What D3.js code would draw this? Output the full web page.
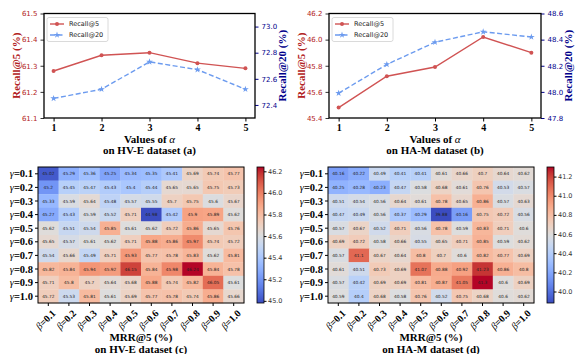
<!DOCTYPE html>
<html>
<head>
<meta charset="utf-8">
<script src="https://cdn.jsdelivr.net/npm/d3@7"></script>
<style>
  body { margin: 0; background: #fff; }
  svg { display: block; }
  .serif { font-family: "Liberation Serif", "DejaVu Serif", serif; font-weight: bold; }
  .sans { font-family: "DejaVu Sans", sans-serif; }
</style>
</head>
<body>
<script>
// ---- data ----
const alphas = [1, 2, 3, 4, 5];
const recall5HVE = [61.28, 61.34, 61.35, 61.31, 61.29];
const recall20HVE = [72.45, 72.52, 72.73, 72.67, 72.52];
const recall5HAM = [45.48, 45.72, 45.79, 46.02, 45.90];
const recall20HAM = [47.99, 48.21, 48.38, 48.46, 48.42];

const gammaLabels = ["0.1", "0.2", "0.3", "0.4", "0.5", "0.6", "0.7", "0.8", "0.9", "1.0"];
const betaLabels = ["0.1", "0.2", "0.3", "0.4", "0.5", "0.6", "0.7", "0.8", "0.9", "1.0"];

// rows = gamma, cols = beta
const mrrHVE = [
  [45.02, 45.29, 45.36, 45.25, 45.34, 45.35, 45.41, 45.69, 45.74, 45.77],
  [45.2, 45.45, 45.47, 45.43, 45.4, 45.44, 45.65, 45.65, 45.75, 45.73],
  [45.33, 45.59, 45.64, 45.48, 45.57, 45.55, 45.7, 45.75, 45.6, 45.67],
  [45.27, 45.43, 45.59, 45.52, 45.71, 44.98, 45.42, 45.9, 45.89, 45.62],
  [45.62, 45.51, 45.54, 45.85, 45.61, 45.62, 45.72, 45.86, 45.65, 45.76],
  [45.65, 45.57, 45.61, 45.62, 45.71, 45.88, 45.86, 45.97, 45.74, 45.72],
  [45.54, 45.66, 45.49, 45.71, 45.93, 45.77, 45.78, 45.83, 45.62, 45.81],
  [45.82, 45.84, 45.94, 45.92, 46.15, 45.84, 45.98, 46.24, 45.84, 45.78],
  [45.71, 45.8, 45.7, 45.64, 45.68, 45.88, 45.74, 45.82, 46.05, 45.61],
  [45.72, 45.53, 45.81, 45.61, 45.69, 45.77, 45.78, 45.74, 45.86, 45.66]
];
const mrrHAM = [
  [40.16, 40.22, 40.49, 40.41, 40.41, 40.61, 40.66, 40.7, 40.64, 40.62],
  [40.25, 40.28, 40.23, 40.47, 40.58, 40.68, 40.61, 40.76, 40.53, 40.57],
  [40.51, 40.54, 40.56, 40.64, 40.61, 40.78, 40.65, 40.86, 40.57, 40.63],
  [40.47, 40.49, 40.56, 40.37, 40.29, 39.88, 40.16, 40.75, 40.72, 40.56],
  [40.57, 40.67, 40.52, 40.71, 40.56, 40.78, 40.59, 40.83, 40.71, 40.6],
  [40.69, 40.72, 40.58, 40.66, 40.55, 40.65, 40.71, 40.85, 40.59, 40.62],
  [40.57, 41.1, 40.67, 40.64, 40.8, 40.7, 40.6, 40.82, 40.77, 40.69],
  [40.61, 40.51, 40.73, 40.69, 41.07, 40.88, 40.92, 41.23, 40.86, 40.8],
  [40.57, 40.42, 40.69, 40.69, 40.81, 40.87, 41.05, 41.3, 40.6, 40.69],
  [40.59, 40.4, 40.68, 40.58, 40.76, 40.52, 40.75, 40.68, 40.6, 40.62]
];

const ticksHVE = [45.0, 45.2, 45.4, 45.6, 45.8, 46.0, 46.2];
const ticksHAM = [40.0, 40.2, 40.4, 40.6, 40.8, 41.0, 41.2];

// coolwarm control colours (Moreland)
const coolwarm = [
  [59,76,192],[68,90,204],[77,104,215],[87,117,225],[98,130,234],[108,142,241],
  [119,154,247],[130,165,251],[141,176,254],[152,185,255],[163,194,255],[174,201,253],
  [184,208,249],[194,213,244],[204,217,238],[213,219,230],[221,221,221],[229,216,209],
  [236,211,197],[241,204,185],[245,196,173],[247,187,160],[247,177,148],[247,166,135],
  [244,154,123],[241,141,111],[236,127,99],[229,112,88],[222,96,77],[213,80,66],
  [203,62,56],[192,40,47],[180,4,38]
].map(c => d3.rgb(c[0], c[1], c[2]).toString());
const coolwarmInterp = d3.piecewise(d3.interpolateRgb, coolwarm);

const W = 576, H = 354;
const svg = d3.select("body").append("svg").attr("width", W).attr("height", H);
const defs = svg.append("defs");

const red = "#d05353", blue = "#6c9bef";
const redText = "#b22222", blueText = "#00008b";

function drawLinePanel(o) {
  const g = svg.append("g");
  const x = d3.scaleLinear().domain([0.8, 5.2]).range([o.left, o.right]);
  const yL = d3.scaleLinear().domain(o.leftDomain).range([o.bottom, o.top]);
  const yR = d3.scaleLinear().domain(o.rightDomain).range([o.bottom, o.top]);

  // axes
  const ax = g.append("g").attr("transform", `translate(0,${o.bottom})`)
    .call(d3.axisBottom(x).tickValues(alphas).tickFormat(d3.format("d")).tickSizeOuter(0).tickSize(3.5));
  ax.selectAll("text").attr("class", "serif").style("font-size", "10px").attr("fill", "#000")
    .attr("y", 5).attr("dy", "0.8em");

  const al = g.append("g").attr("transform", `translate(${o.left},0)`)
    .call(d3.axisLeft(yL).tickValues(o.leftTicks).tickFormat(d3.format(".1f")).tickSizeOuter(0).tickSize(3.5));
  al.selectAll("text").attr("class", "sans").style("font-size", "7px").attr("fill", redText);
  al.selectAll("line").attr("stroke", "#333");

  const ar = g.append("g").attr("transform", `translate(${o.right},0)`)
    .call(d3.axisRight(yR).tickValues(o.rightTicks).tickFormat(d3.format(".1f")).tickSizeOuter(0).tickSize(3.5));
  ar.selectAll("text").attr("class", "sans").style("font-size", "7px").attr("fill", blueText);
  ar.selectAll("line").attr("stroke", blueText);

  [ax, al, ar].forEach(a => a.select(".domain").remove());
  g.append("rect").attr("x", o.left).attr("y", o.top)
    .attr("width", o.right - o.left).attr("height", o.bottom - o.top)
    .attr("fill", "none").attr("stroke", "#000").attr("stroke-width", 1.3);

  // lines
  const lineL = d3.line().x((d, i) => x(alphas[i])).y(d => yL(d));
  const lineR = d3.line().x((d, i) => x(alphas[i])).y(d => yR(d));
  g.append("path").datum(o.r5).attr("d", lineL).attr("fill", "none")
    .attr("stroke", red).attr("stroke-width", 1.4);
  g.selectAll(".m5").data(o.r5).join("circle")
    .attr("cx", (d, i) => x(alphas[i])).attr("cy", d => yL(d)).attr("r", 2).attr("fill", red);
  g.append("path").datum(o.r20).attr("d", lineR).attr("fill", "none")
    .attr("stroke", blue).attr("stroke-width", 1.4).attr("stroke-dasharray", "5,2.5");
  const star = d3.symbol().type(d3.symbolStar).size(14);
  g.selectAll(".m20").data(o.r20).join("path")
    .attr("d", star).attr("fill", blue)
    .attr("transform", (d, i) => `translate(${x(alphas[i])},${yR(d)})`);

  // legend
  const lg = g.append("g").attr("transform", `translate(${o.left + 3},${o.top + 4})`);
  lg.append("rect").attr("x", 0).attr("y", 0).attr("width", 61).attr("height", 24).attr("rx", 2)
    .attr("fill", "#fff").attr("stroke", "#d0d0d0").attr("stroke-width", 0.8);
  lg.append("line").attr("x1", 3).attr("x2", 17).attr("y1", 6.5).attr("y2", 6.5).attr("stroke", red).attr("stroke-width", 1.4);
  lg.append("circle").attr("cx", 10).attr("cy", 6.5).attr("r", 2).attr("fill", red);
  lg.append("line").attr("x1", 3).attr("x2", 17).attr("y1", 17.5).attr("y2", 17.5).attr("stroke", blue)
    .attr("stroke-width", 1.4).attr("stroke-dasharray", "5,2.5");
  lg.append("path").attr("d", star).attr("fill", blue).attr("transform", "translate(10,17.5)");
  lg.append("text").attr("class", "sans").attr("x", 22).attr("y", 6.5).attr("dy", "0.35em")
    .style("font-size", "6.5px").attr("fill", "#222").text("Recall@5");
  lg.append("text").attr("class", "sans").attr("x", 22).attr("y", 17.5).attr("dy", "0.35em")
    .style("font-size", "6.5px").attr("fill", "#222").text("Recall@20");

  // axis labels
  const cy = (o.top + o.bottom) / 2;
  g.append("text").attr("class", "serif").style("font-size", "11px").attr("fill", redText)
    .attr("text-anchor", "middle").attr("transform", `translate(${o.left - 28},${cy}) rotate(-90)`)
    .attr("dy", "0.35em").text("Recall@5 (%)");
  g.append("text").attr("class", "serif").style("font-size", "11px").attr("fill", blueText)
    .attr("text-anchor", "middle").attr("transform", `translate(${o.right + 27},${cy}) rotate(-90)`)
    .attr("dy", "0.35em").text("Recall@20 (%)");

  const cx = (o.left + o.right) / 2;
  const t1 = g.append("text").attr("class", "serif").style("font-size", "11px").attr("fill", "#000")
    .attr("text-anchor", "middle").attr("x", cx).attr("y", 142.5);
  t1.append("tspan").text("Values of ");
  t1.append("tspan").style("font-style", "italic").style("font-weight", "normal").text("α");
  g.append("text").attr("class", "serif").style("font-size", "11px").attr("fill", "#000")
    .attr("text-anchor", "middle").attr("x", cx).attr("y", 154).text(o.title);
}

function drawHeatmap(o) {
  const g = svg.append("g");
  const x = d3.scaleBand().domain(betaLabels).range([o.left, o.right]);
  const y = d3.scaleBand().domain(gammaLabels).range([o.top, o.bottom]);
  const flat = o.data.flat();
  const vmin = d3.min(flat), vmax = d3.max(flat);
  const color = d3.scaleSequential(coolwarmInterp).domain([vmin, vmax]);

  const cells = [];
  o.data.forEach((row, i) => row.forEach((v, j) => cells.push({ g: gammaLabels[i], b: betaLabels[j], v })));

  g.selectAll("rect.cell").data(cells).join("rect").attr("class", "cell")
    .attr("x", d => x(d.b)).attr("y", d => y(d.g))
    .attr("width", x.bandwidth() + 0.3).attr("height", y.bandwidth() + 0.3)
    .attr("fill", d => color(d.v));
  g.selectAll("text.val").data(cells).join("text").attr("class", "sans")
    .attr("x", d => x(d.b) + x.bandwidth() / 2).attr("y", d => y(d.g) + y.bandwidth() / 2)
    .attr("dy", "0.35em").attr("text-anchor", "middle").style("font-size", "4.3px").attr("fill", "#222")
    .text(d => String(d.v));
  g.append("rect").attr("x", o.left).attr("y", o.top).attr("width", o.right - o.left)
    .attr("height", o.bottom - o.top).attr("fill", "none").attr("stroke", "#000").attr("stroke-width", 1);

  // y axis
  const ay = g.append("g").attr("transform", `translate(${o.left},0)`)
    .call(d3.axisLeft(y).tickSize(3).tickSizeOuter(0));
  ay.select(".domain").remove();
  ay.selectAll("text").remove();
  ay.selectAll(".tick").append("text").attr("class", "serif").attr("x", -5).attr("dy", "0.35em")
    .attr("text-anchor", "end").style("font-size", "10.5px").attr("fill", "#000")
    .each(function(d) {
      const t = d3.select(this);
      t.append("tspan").style("font-style", "italic").style("font-weight", "normal").text("γ");
      t.append("tspan").text("=" + d);
    });

  // x axis
  const ax = g.append("g").attr("transform", `translate(0,${o.bottom})`)
    .call(d3.axisBottom(x).tickSize(3).tickSizeOuter(0));
  ax.select(".domain").remove();
  ax.selectAll("text").remove();
  ax.selectAll(".tick").append("text").attr("class", "serif")
    .attr("transform", "translate(3,6) rotate(-45)").attr("dy", "0.7em")
    .attr("text-anchor", "end").style("font-size", "10px").attr("fill", "#000")
    .each(function(d) {
      const t = d3.select(this);
      t.append("tspan").style("font-style", "italic").style("font-weight", "normal").text("β");
      t.append("tspan").text("=" + d);
    });

  // colorbar
  const gid = "cw" + o.id;
  const grad = defs.append("linearGradient").attr("id", gid)
    .attr("x1", 0).attr("x2", 0).attr("y1", 1).attr("y2", 0);
  coolwarm.forEach((c, i) => grad.append("stop").attr("offset", i / (coolwarm.length - 1)).attr("stop-color", c));
  g.append("rect").attr("x", o.cbX).attr("y", o.top).attr("width", 7).attr("height", o.bottom - o.top)
    .attr("fill", `url(#${gid})`).attr("stroke", "#000").attr("stroke-width", 0.8);
  const cy = d3.scaleLinear().domain([vmin, vmax]).range([o.bottom, o.top]);
  const ac = g.append("g").attr("transform", `translate(${o.cbX + 7},0)`)
    .call(d3.axisRight(cy).tickValues(o.ticks).tickFormat(d3.format(".1f")).tickSize(2.5).tickSizeOuter(0));
  ac.select(".domain").remove();
  ac.selectAll("text").attr("class", "sans").style("font-size", "6.5px").attr("fill", "#333").attr("x", 4);

  const cx = (o.left + o.right) / 2;
  g.append("text").attr("class", "serif").style("font-size", "11px").attr("fill", "#000")
    .attr("text-anchor", "middle").attr("x", cx).attr("y", 341).text("MRR@5 (%)");
  g.append("text").attr("class", "serif").style("font-size", "11px").attr("fill", "#000")
    .attr("text-anchor", "middle").attr("x", cx).attr("y", 352.5).text(o.title);
}

drawLinePanel({
  left: 44, right: 255, top: 13.5, bottom: 118,
  leftDomain: [61.1, 61.5], rightDomain: [72.3, 73.1],
  leftTicks: [61.1, 61.2, 61.3, 61.4, 61.5], rightTicks: [72.4, 72.6, 72.8, 73.0],
  r5: recall5HVE, r20: recall20HVE, title: "on HV-E dataset (a)"
});
drawLinePanel({
  left: 329, right: 541, top: 13.5, bottom: 118,
  leftDomain: [45.4, 46.2], rightDomain: [47.8, 48.6],
  leftTicks: [45.4, 45.6, 45.8, 46.0, 46.2], rightTicks: [47.8, 48.0, 48.2, 48.4, 48.6],
  r5: recall5HAM, r20: recall20HAM, title: "on HA-M dataset (b)"
});
drawHeatmap({
  id: "c", left: 38, right: 244, top: 167, bottom: 303, cbX: 257,
  data: mrrHVE, ticks: ticksHVE, title: "on HV-E dataset (c)"
});
drawHeatmap({
  id: "d", left: 328, right: 534, top: 167, bottom: 303, cbX: 547,
  data: mrrHAM, ticks: ticksHAM, title: "on HA-M dataset (d)"
});
</script>
</body>
</html>
